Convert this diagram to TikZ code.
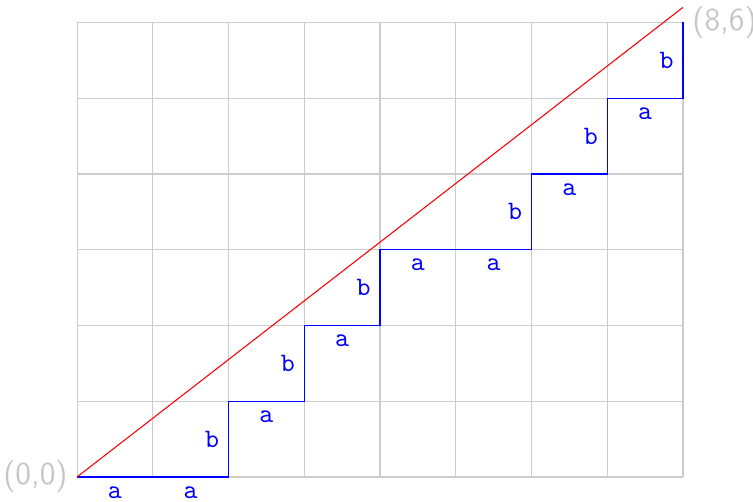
\documentclass[tikz,border=0pt]{standalone}
\usetikzlibrary{positioning}

\begin{document}
\begin{tikzpicture}[
  gridline/.style={draw=gray!40},
  corner/.style={text=gray!45, font=\sffamily\large},
  walk/.style={draw=blue, line width=0.5pt},
  diag/.style={draw=red},
  alab/.style={below, text=blue, font=\ttfamily},
  blab/.style={left, text=blue, font=\ttfamily}
]
\useasboundingbox (-1.017,-0.33) rectangle (8.924,6.297);
\coordinate (o) at (0,0);
\coordinate (e) at (8,6);
\coordinate (tip) at (8,6.2);

\draw[gridline] (o) grid (e);
\node[corner, left=0pt of o] (olab) {(0,0)};
\node[corner, right=0pt of e] (elab) {(8,6)};

% lattice path
\draw[walk] (o)
  -- node[alab] (a1) {a} ++(1,0)
  -- node[alab] (a2) {a} ++(1,0)
  -- node[blab] (b1) {b} ++(0,1)
  -- node[alab] (a3) {a} ++(1,0)
  -- node[blab] (b2) {b} ++(0,1)
  -- node[alab] (a4) {a} ++(1,0)
  -- node[blab] (b3) {b} ++(0,1)
  -- node[alab] (a5) {a} ++(1,0)
  -- node[alab] (a6) {a} ++(1,0)
  -- node[blab] (b4) {b} ++(0,1)
  -- node[alab] (a7) {a} ++(1,0)
  -- node[blab] (b5) {b} ++(0,1)
  -- node[alab] (a8) {a} ++(1,0)
  -- node[blab] (b6) {b} (e);

\draw[diag] (o) -- (tip);
\end{tikzpicture}
\end{document}
